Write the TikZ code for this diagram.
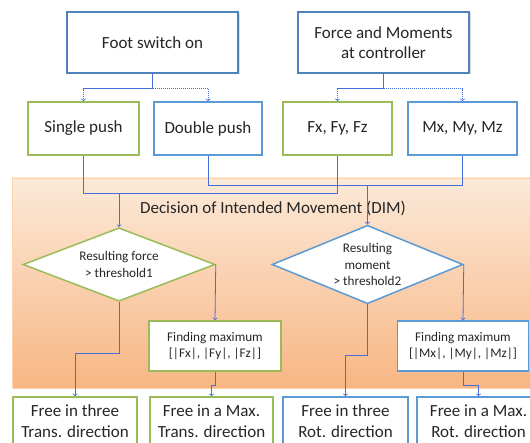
\documentclass[tikz,border=0pt]{standalone}
\usepackage{fontspec}
\setmainfont{Carlito}
\usepackage{xcolor}
\usetikzlibrary{shapes,arrows,positioning,calc,shadows}

\definecolor{boxblue}{RGB}{79,129,189}
\definecolor{lightblue}{RGB}{91,155,213}
\definecolor{boxgreen}{RGB}{155,187,89}
\definecolor{linkblue}{RGB}{70,110,220}
\definecolor{dimtop}{RGB}{252,233,216}
\definecolor{dimbottom}{RGB}{247,182,132}
\definecolor{textgray}{RGB}{38,38,38}

\newcommand{\boxfont}{\fontsize{17}{20.5}\selectfont}
\newcommand{\notefont}{\fontsize{13.2}{16.8}\selectfont}

\begin{document}
\begin{tikzpicture}[x=1pt,y=-1pt,text=textgray]
  % Define styles
  \tikzstyle{topbox} = [rectangle, draw=boxblue, line width=1.5pt, fill=white, minimum width=171pt, minimum height=61pt, align=center, font=\boxfont, drop shadow={shadow xshift=1.5pt, shadow yshift=-1.5pt, opacity=0.25}]
  \tikzstyle{greenbox} = [rectangle, draw=boxgreen, line width=1.5pt, fill=white, minimum height=53pt, align=center, font=\boxfont]
  \tikzstyle{bluebox} = [greenbox, draw=lightblue]
  \tikzstyle{notebox} = [greenbox, minimum height=50pt, font=\notefont]
  \tikzstyle{endbox} = [greenbox, minimum width=124pt, minimum height=48pt]
  \tikzstyle{decision} = [diamond, draw, line width=1.5pt, fill=white, inner sep=-8pt, minimum width=192pt, minimum height=67pt, align=center, font=\notefont]
  \tikzstyle{link} = [draw=linkblue, line width=0.8pt, line cap=butt]
  \tikzstyle{arrow} = [link,->,>=to]

  \useasboundingbox (0,0) rectangle (530,443);
  \clip (0,0) rectangle (530,443);

  % DIM region
  \node [rectangle, draw=dimtop!80!orange, top color=dimtop, bottom color=dimbottom, minimum width=523pt, minimum height=210pt, inner sep=0pt] (dim) at (273.5,283) {};
  \node [font=\boxfont] (dimtitle) at (273,208) {Decision of Intended Movement (DIM)};

  % Inputs
  \node [topbox] (foot) at (152.5,42.5) {Foot switch on};
  \node [topbox] (force) at (383.5,42.5) {Force and Moments\\at controller};

  \node [greenbox, minimum width=111pt] (single) at (83.5,128.5) {Single push};
  \node [bluebox, minimum width=108pt] (double) at (208,128.5) {Double push};
  \node [greenbox, minimum width=109pt] (fxyz) at (337.5,128.5) {Fx, Fy, Fz};
  \node [bluebox, minimum width=109pt] (mxyz) at (462.5,128.5) {Mx, My, Mz};

  % Decisions
  \node [decision, draw=boxgreen] (dia1) at (119,264.5) {Resulting force\\> threshold1};
  \node [decision, draw=lightblue, minimum width=191pt] (dia2) at (367.5,264.5) {Resulting\\moment\\> threshold2};

  \node [notebox, minimum width=132pt] (max1) at (215,346) {Finding maximum\\{}[|Fx|, |Fy|, |Fz|]};
  \node [notebox, draw=lightblue, minimum width=131pt] (max2) at (463,346) {Finding maximum\\{}[|Mx|, |My|, |Mz|]};

  % Results
  \node [endbox] (free1) at (75,421) {Free in three\\Trans. direction};
  \node [endbox, minimum width=123pt] (free2) at (211.5,421) {Free in a Max.\\Trans. direction};
  \node [endbox, draw=lightblue, minimum width=125pt] (free3) at (345.5,421) {Free in three\\Rot. direction};
  \node [endbox, draw=lightblue, minimum width=123pt] (free4) at (478.5,421) {Free in a Max.\\Rot. direction};

  % Branches from the inputs
  \draw [link] (foot.south) -- ++(0,15) coordinate (footjoin);
  \draw [arrow, dash pattern=on 1.2pt off 0.8pt] (footjoin) -| (single.north);
  \draw [arrow, dash pattern=on 1.2pt off 0.8pt] (footjoin) -| (double.north);
  \draw [link] (force.south) -- ++(0,15) coordinate (forcejoin);
  \draw [arrow, dash pattern=on 1.2pt off 0.8pt] (forcejoin) -| (fxyz.north);
  \draw [arrow, dash pattern=on 1.2pt off 0.8pt] (forcejoin) -| (mxyz.north);

  % Into the DIM
  \draw [link] (single.south) -- ++(0,38) coordinate (transjoin) -| (fxyz.south);
  \draw [link] (double.south) -- ++(0,30) coordinate (rotjoin) -| (mxyz.south);
  \draw [arrow] (transjoin -| dia1.north) -- (dia1.north);
  \draw [arrow] (rotjoin -| dia2.north) -- (dia2.north);

  % Out of the decisions
  \draw [arrow] (dia1.east) -- (max1.north);
  \draw [arrow] (dia2.east) -- (max2.north);
  \draw [arrow] (dia1.south) -- ++(0,51) -| (free1.north);
  \draw [arrow] (dia2.south) -- ++(0,51) -| (free3.north);
  \draw [arrow] (max1.south) -- ++(0,14) -| (free2.north);
  \draw [arrow] (max2.south) -- ++(0,14) -| (free4.north);

\end{tikzpicture}
\end{document}
